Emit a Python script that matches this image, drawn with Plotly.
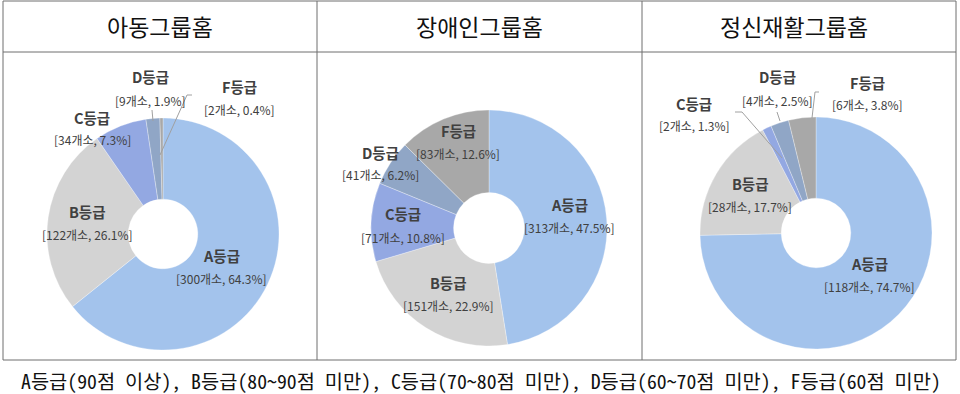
import plotly.graph_objects as go

W, H = 960, 394

grades = ["A등급", "B등급", "C등급", "D등급", "F등급"]
group_titles = ["아동그룹홈", "장애인그룹홈", "정신재활그룹홈"]
counts_child = [300, 122, 34, 9, 2]
pct_child = [64.3, 26.1, 7.3, 1.9, 0.4]
counts_disabled = [313, 151, 71, 41, 83]
pct_disabled = [47.5, 22.9, 10.8, 6.2, 12.6]
counts_mental = [118, 28, 2, 4, 6]
pct_mental = [74.7, 17.7, 1.3, 2.5, 3.8]
footnote = "A등급(90점 이상), B등급(80~90점 미만), C등급(70~80점 미만), D등급(60~70점 미만), F등급(60점 미만)"

colors = ["#a3c3ec", "#d3d3d3", "#93a8e2", "#90a6c6", "#a8a8a8"]

# pie geometry in pixels: center x, center y, radius
pies = [(163, 234, 116), (489, 228, 118), (816, 233, 116)]
# label positions in pixels (title center) per pie, per grade
label_pos = [
    [(221, 255), (87, 212), (92, 117), (150, 77), (239, 86)],
    [(569, 204), (448, 282), (403, 214), (380, 152), (458, 130)],
    [(869, 263), (750, 183), (694, 103), (777, 77), (867, 82)],
]
leaders = [
    [(152, 110), (153, 121)],
    [(192, 95), (187, 95), (160, 155)],
    [(735, 112), (742, 112), (782, 158)],
    [(777, 112), (780, 121)],
    [(819, 92), (815, 92), (812, 118)],
]

def px(x):
    return x / W

def py(y):
    return 1 - y / H

fig = go.Figure()
datasets = [(counts_child, pct_child), (counts_disabled, pct_disabled), (counts_mental, pct_mental)]
for i, (cnt, pct) in enumerate(datasets):
    cx, cy, r = pies[i]
    fig.add_trace(go.Pie(
        labels=grades, values=cnt, sort=False, direction="clockwise", rotation=0,
        hole=0.30, textinfo="none", hoverinfo="label+value+percent",
        marker=dict(colors=colors, line=dict(color="rgba(255,255,255,0.6)", width=0.5)),
        domain=dict(x=[px(cx - r), px(cx + r)], y=[py(cy + r), py(cy - r)]),
        showlegend=False,
    ))

annotations = []
for i, (cnt, pct) in enumerate(datasets):
    for j, g in enumerate(grades):
        lx, ly = label_pos[i][j]
        annotations.append(dict(
            x=px(lx), y=py(ly), xref="paper", yref="paper", showarrow=False,
            text=f"<b>{g}</b>", font=dict(family="Noto Sans CJK KR", size=14.5, color="#404040"),
            xanchor="center", yanchor="middle"))
        annotations.append(dict(
            x=px(lx), y=py(ly + 23), xref="paper", yref="paper", showarrow=False,
            text=f"[{cnt[j]}개소, {pct[j]}%]", font=dict(family="Noto Sans CJK KR", size=12, color="#404040"),
            xanchor="center", yanchor="middle"))

title_x = [160, 479, 794]
for t, x in zip(group_titles, title_x):
    annotations.append(dict(
        x=px(x), y=py(26), xref="paper", yref="paper", showarrow=False, text=t,
        font=dict(family="Noto Sans CJK KR", size=23, color="#111111"),
        xanchor="center", yanchor="middle"))

annotations.append(dict(
    x=px(481), y=py(380), xref="paper", yref="paper", showarrow=False, text=footnote,
    font=dict(family="Noto Sans Mono CJK KR, Noto Sans CJK KR", size=19.8, color="#111111"),
    xanchor="center", yanchor="middle"))

shapes = []
line_col = "#6e6e6e"
def hline(y, x0, x1):
    shapes.append(dict(type="line", xref="paper", yref="paper", x0=px(x0), x1=px(x1), y0=py(y), y1=py(y),
                       line=dict(color=line_col, width=1)))
def vline(x, y0, y1):
    shapes.append(dict(type="line", xref="paper", yref="paper", x0=px(x), x1=px(x), y0=py(y0), y1=py(y1),
                       line=dict(color=line_col, width=1)))

hline(1, 3, 956)
hline(52, 3, 956)
hline(360, 3, 956)
vline(3, 1, 360)
vline(317, 1, 360)
vline(642, 1, 360)
vline(956, 1, 360)

for pts in leaders:
    path = "M " + " L ".join(f"{px(x)},{py(y)}" for x, y in pts)
    shapes.append(dict(type="path", xref="paper", yref="paper", path=path,
                       line=dict(color="#a0a0a0", width=1)))

fig.update_layout(
    width=W, height=H, autosize=False,
    margin=dict(l=0, r=0, t=0, b=0),
    paper_bgcolor="white", plot_bgcolor="white",
    annotations=annotations, shapes=shapes,
)

fig.write_html("out.html", config={"displayModeBar": False},
               post_script="document.body.style.margin='0';")
